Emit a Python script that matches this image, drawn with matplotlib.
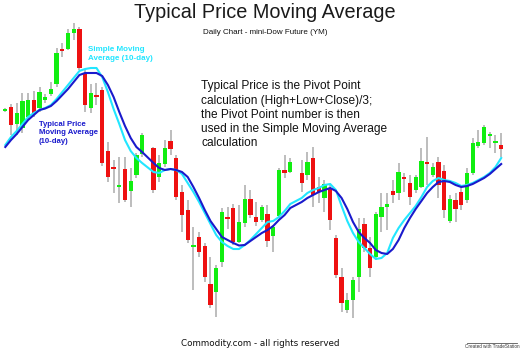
import matplotlib
matplotlib.use("Agg")
import matplotlib.pyplot as plt
import numpy as np

# ---- data (price units) ----
missing_days = [25, 51]
days = [d for d in range(88) if d not in missing_days]

opens = [289, 293, 276, 272, 283, 300, 292, 300, 306, 316,
         351, 351, 367, 371, 327, 292, 305, 310, 249, 233,
         213, 231, 209, 225, 246,
         252, 223, 236, 259, 242, 208, 190, 153, 163,
         154, 116, 108, 138, 183, 192, 158, 177, 201, 183,
         180, 186, 164, 184, 230, 228,
         227, 225, 242, 213, 202, 212, 162, 123, 90,
         100, 123, 176, 152, 143, 183, 193, 209, 207, 223,
         217, 210, 213, 238, 225, 238, 229, 179, 200, 208,
         200, 227, 254, 257, 264, 257, 255]
highs = [292, 296, 297, 307, 307, 309, 313, 306, 318, 352,
         357, 371, 377, 373, 330, 316, 317, 313, 258, 240,
         243, 243, 232, 247, 267,
         253, 245, 260, 270, 245, 215, 200, 173, 168,
         157, 143, 135, 192, 193, 196, 195, 215, 210, 198,
         195, 195, 175, 232, 245, 242,
         240, 248, 253, 223, 220, 215, 165, 132, 107,
         123, 182, 182, 163, 188, 207, 207, 220, 237, 227,
         225, 225, 252, 263, 237, 243, 235, 205, 207, 213,
         232, 262, 270, 275, 268, 265, 267]
lows = [288, 265, 265, 267, 280, 283, 288, 297, 304, 313,
        343, 350, 360, 330, 288, 287, 295, 234, 218, 207,
        197, 198, 193, 222, 243,
        207, 218, 233, 245, 200, 168, 157, 110, 143,
        118, 92, 83, 133, 171, 155, 157, 173, 182, 174,
        178, 153, 148, 182, 222, 227,
        208, 220, 193, 197, 188, 170, 122, 88, 87,
        82, 108, 148, 123, 140, 168, 170, 197, 200, 208,
        195, 207, 212, 215, 223, 202, 182, 177, 178, 190,
        197, 225, 252, 255, 252, 247, 243]
closes = [291, 275, 287, 299, 300, 286, 308, 303, 311, 347,
          349, 367, 371, 332, 295, 307, 303, 237, 223, 231,
          215, 200, 219, 245, 265,
          210, 237, 252, 251, 203, 185, 160, 155, 148,
          123, 95, 132, 188, 181, 158, 178, 201, 185, 178,
          193, 159, 173, 230, 227, 238,
          217, 238, 205, 208, 216, 180, 125, 97, 100,
          120, 171, 152, 132, 186, 193, 196, 205, 228, 221,
          203, 223, 239, 236, 233, 215, 190, 201, 191, 195,
          227, 257, 258, 273, 266, 259, 251]

sma_close = [255, 263, 269, 276, 283, 287, 290, 292, 295, 301,
             308, 315, 322, 329, 331, 332, 332, 323, 308, 291,
             276, 260, 249, 242, 237,
             228, 227, 230, 231, 230, 226, 217, 208, 198,
             187, 176, 165, 158, 154, 151, 151, 155, 160, 166,
             172, 178, 179, 183, 189, 196,
             202, 207, 210, 212, 215, 216, 210, 194, 179,
             167, 158, 152, 146, 141, 142, 147, 162, 172, 180,
             187, 194, 203, 213, 219, 222, 220, 219, 217, 214,
             215, 217, 220, 223, 227, 233, 242]
ma_typical = [253, 260, 266, 273, 280, 285, 290, 291.5, 294, 299,
              305, 311, 318, 325, 327, 327, 327, 324, 315, 303,
              288, 274, 262, 253, 248,
              237, 232, 230, 231, 230, 228, 223, 213, 202,
              190, 179, 171, 163, 160, 157, 154.5, 155, 159, 163,
              167, 170, 174, 180, 185, 192,
              198, 202, 205, 208, 210, 212, 209, 202, 191,
              178, 168, 162, 157, 150, 147, 146, 151, 160, 172,
              182, 191, 199, 207, 213, 218, 219, 218, 215, 213,
              214, 216, 219, 222, 226, 231, 236]

title = "Typical Price Moving Average"
subtitle = "Daily Chart - mini-Dow Future (YM)"
note = ("Typical Price is the Pivot Point\ncalculation (High+Low+Close)/3;\n"
        "the Pivot Point number is then\nused in the Simple Moving Average\ncalculation")
sma_label = "Simple Moving\nAverage (10-day)"
tp_label = "Typical Price\nMoving Average\n(10-day)"
footer = "Commodity.com - all rights reserved"
credit = "Created with TradeStation"

# ---- drawing ----
W, H = 520, 350
fig = plt.figure(figsize=(W / 100, H / 100), dpi=100)
fig.patch.set_facecolor("white")
ax = fig.add_axes([0, 0, 1, 1])
ax.set_xlim(-0.93, 90.3)
ax.set_ylim(50, 400)
ax.axis("off")

x = np.array(days)
o = np.array(opens, float)
h = np.array(highs, float)
l = np.array(lows, float)
c = np.array(closes, float)
up = c >= o
cols = np.where(up, "#11ee11", "#ee1111")

ax.vlines(x, l, h, color="#ababab", linewidth=1.1, zorder=1)
bottom = np.minimum(o, c)
height = np.maximum(np.abs(c - o), 1.6)
ax.bar(x, height, bottom=bottom - (height - np.abs(c - o)) / 2, width=0.74,
       color=cols, linewidth=0, zorder=2)

ax.plot(x, sma_close, color="#22e6ff", linewidth=1.5, zorder=3)
ax.plot(x, ma_typical, color="#1a1acc", linewidth=1.5, zorder=4)

FONT = "Liberation Sans"

def fx(px):
    return px / W

def fy(py):
    return 1 - py / H

fig.text(fx(265), fy(13), title, ha="center", va="center", fontsize=14.3,
         family=FONT, color="#1a1a1a")
fig.text(fx(265), fy(32), subtitle, ha="center", va="center", fontsize=5.8,
         family=FONT, color="#111111")
fig.text(fx(201), fy(115), note, ha="left", va="center", fontsize=8.6,
         family=FONT, color="#111111", linespacing=1.25)
fig.text(fx(88), fy(54), sma_label, ha="left", va="center", fontsize=5.8,
         family=FONT, color="#22e6ff", fontweight="bold", linespacing=1.24)
fig.text(fx(39), fy(133), tp_label, ha="left", va="center", fontsize=5.6,
         family=FONT, color="#1a1acc", fontweight="bold", linespacing=1.28)
fig.text(fx(260), fy(343), footer, ha="center", va="center", fontsize=6.3,
         family="DejaVu Sans", color="#111111")
fig.text(fx(492), fy(346.5), credit, ha="center", va="center", fontsize=3.3,
         family=FONT, color="#333333")
fig.add_artist(plt.Line2D([fx(467), fx(517)], [fy(343), fy(343)],
                          color="#555555", linewidth=0.6))

fig.savefig("out.png", dpi=100, facecolor="white")
